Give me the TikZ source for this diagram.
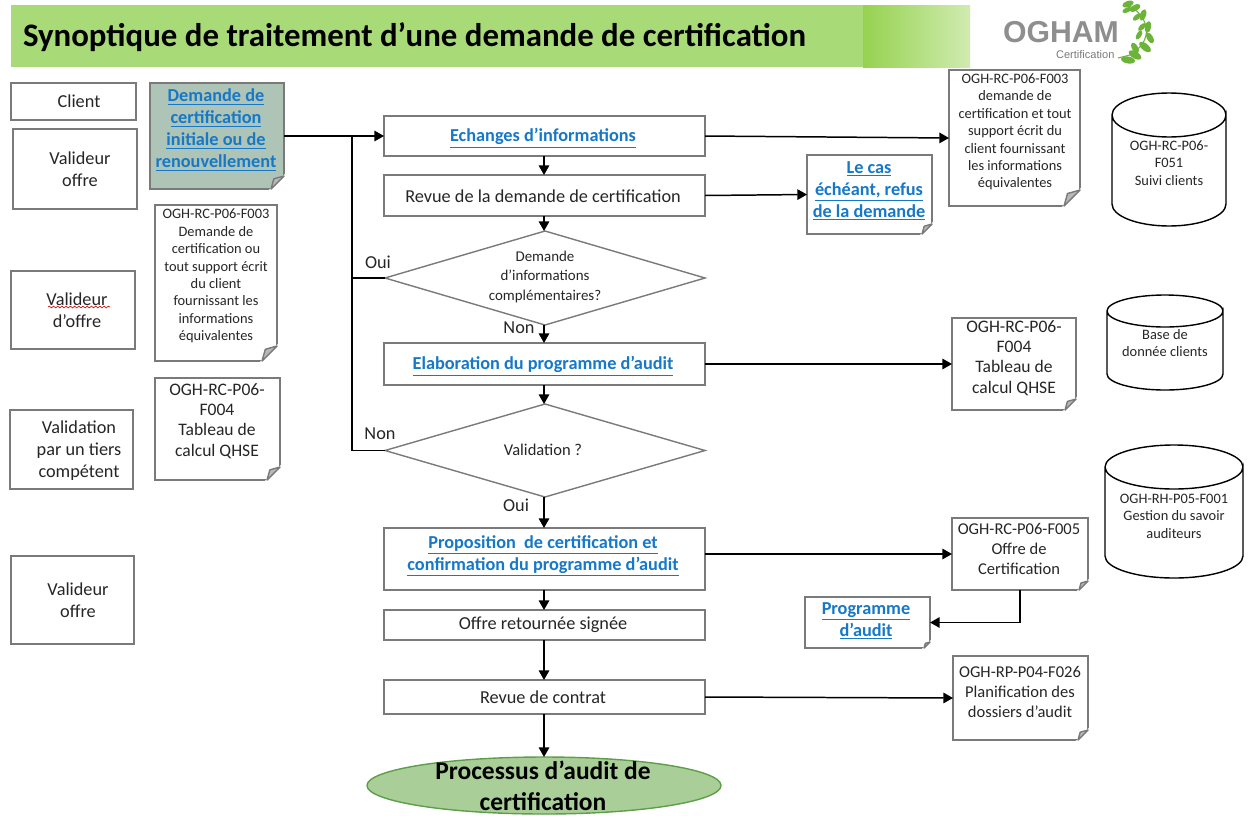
\documentclass[tikz,border=0pt]{standalone}
\usepackage{fontspec}
\setmainfont{Carlito}
\newfontfamily\logofont{Liberation Sans}
\usetikzlibrary{shapes.geometric,arrows.meta,calc,decorations.pathmorphing}
\definecolor{linkblue}{HTML}{1578C8}
\definecolor{edgegray}{HTML}{7A7A7A}
\definecolor{barA}{HTML}{A9DA78}
\definecolor{barB}{HTML}{96D250}
\definecolor{barC}{HTML}{D0EBB0}
\definecolor{notegreen}{HTML}{AEC4B6}
\definecolor{ovalgreen}{HTML}{A9CE98}
\definecolor{ovaledge}{HTML}{5E9E4A}
\definecolor{leafgreen}{HTML}{6CB33A}
\definecolor{foldgray}{HTML}{B8B8B8}
\definecolor{txt}{HTML}{262626}
\newcommand{\lk}[1]{\textcolor{linkblue}{\underline{#1}}}
\tikzset{
  x=0.02cm,y=-0.02cm,
  base/.style={inner sep=0pt,outer sep=0pt},
  outline/.style={draw=edgegray,line width=0.8pt},
  plainbox/.style={base,rectangle,outline,fill=white},
  ghost/.style={base,rectangle},
  tmain/.style={base,align=center,text=txt,font=\fontsize{10.4}{12.5}\selectfont},
  tdiam/.style={base,align=center,text=txt,font=\fontsize{8.5}{11}\selectfont},
  tval/.style={base,align=center,text=txt,font=\fontsize{9.4}{12}\selectfont},
  tbig/.style={base,align=center,text=txt,font=\fontsize{9.4}{11.3}\selectfont},
  ttab/.style={base,align=center,text=txt,font=\fontsize{10}{11.6}\selectfont},
  tsmall/.style={base,align=center,text=txt,font=\fontsize{8.2}{9.9}\selectfont},
  tlink/.style={base,align=center,font=\bfseries\fontsize{10.4}{12.5}\selectfont},
  conn/.style={line width=0.85pt,draw=black,-{Triangle[length=5.5pt,width=6pt]}},
  connplain/.style={line width=0.85pt,draw=black},
  cylline/.style={draw=black,line width=0.8pt,fill=white},
}
% name, x1, y1, x2, y2, box style, text style, text position, text
\newcommand{\shp}[9]{%
  \node[#6,minimum width={(#4-#2)*0.02cm},minimum height={(#5-#3)*0.02cm}] (#1) at ({(#2+#4)/2},{(#3+#5)/2}) {};
  \node[#7] (#1t) at #8 {#9};
}
% node name, fold size
\newcommand{\foldc}[2]{%
  \fill[white,draw=white,line width=1pt] ($(#1.south east)+(0,-#2)$) -- ($(#1.south east)+(-#2,0)$) -- (#1.south east) -- cycle;
  \draw[outline,fill=foldgray,line join=round] ($(#1.south east)+(0,-#2)$) -- ($(#1.south east)+(-#2,0)$) -- ($(#1.south east)+(-0.78*#2,-0.78*#2)$) -- cycle;
}
% node name, x radius, y radius
\newcommand{\cylc}[3]{%
  \draw[cylline] ($(#1.north west)+(0,#3)$) -- ($(#1.south west)+(0,-#3)$)
     .. controls +(0,{0.5523*#3}) and ($(#1.south)+({-0.5523*#2},0)$) .. (#1.south)
     .. controls ($(#1.south)+({0.5523*#2},0)$) and ($(#1.south east)+(0,{-(1-0.5523)*#3})$) .. ($(#1.south east)+(0,-#3)$)
     -- ($(#1.north east)+(0,#3)$)
     .. controls +(0,{0.5523*#3}) and ($(#1.north)+({0.5523*#2},{2*#3})$) .. ($(#1.north)+(0,{2*#3})$)
     .. controls ($(#1.north)+({-0.5523*#2},{2*#3})$) and ($(#1.north west)+(0,{(1+0.5523)*#3})$) .. ($(#1.north west)+(0,#3)$)
     .. controls ($(#1.north west)+(0,{(1-0.5523)*#3})$) and ($(#1.north)+({-0.5523*#2},0)$) .. (#1.north)
     .. controls ($(#1.north)+({0.5523*#2},0)$) and ($(#1.north east)+(0,{(1-0.5523)*#3})$) .. ($(#1.north east)+(0,#3)$);
}
\newcommand{\leaf}[4]{\fill[leafgreen,rotate around={#3:(#1,#2)}] (#1,#2) ellipse [x radius=#4,y radius={#4*0.5}];}
\begin{document}
\begin{tikzpicture}
\useasboundingbox (0,0) rectangle (1250,815);
% title bar
\fill[barA] (11,5) rectangle (863,67);
\shade[left color=barB,right color=barC,shading angle=90] (863,5) rectangle (970,67);
\node[base,anchor=west,text=black] (title) at (23,37) {\bfseries\fontsize{18.7}{21}\selectfont Synoptique de traitement d’une demande de certification};
% logo
\node[base,anchor=west] (logoA) at (1003,32) {\logofont\bfseries\fontsize{17.2}{18}\selectfont\textcolor[HTML]{8E8E8E}{OGHAM}};
\node[base,anchor=west] (logoB) at (1056,55) {\logofont\fontsize{6.3}{7}\selectfont\textcolor[HTML]{7A7A7A}{Certification}};
\draw[leafgreen,line width=0.6pt] (1125,4) .. controls (1146,12) and (1158,38) .. (1130,55) -- (1118,58);
\leaf{1128}{4}{20}{6}\leaf{1135}{8}{30}{6}\leaf{1127}{10}{25}{5}\leaf{1143}{15}{70}{6}
\leaf{1137}{17}{40}{5}\leaf{1148}{27}{80}{6}\leaf{1142}{27}{45}{5}\leaf{1150}{38}{-60}{6}
\leaf{1139}{35}{60}{5}\leaf{1145}{47}{-40}{7}\leaf{1135}{48}{-60}{6}\leaf{1135}{55}{-30}{7}\leaf{1128}{60}{-10}{7}
% left column
\shp{a1}{11}{83}{136}{120}{plainbox}{tmain}{(79,101)}{Client}
\shp{a2}{13}{129}{137}{209}{plainbox}{tmain}{(80,169)}{Valideur\\offre}
\shp{a3}{11}{271}{135}{349}{plainbox}{tmain}{(77,310)}{Valideur\\d’offre}
\draw[red!85!black,line width=0.35pt,decorate,decoration={snake,amplitude=0.5pt,segment length=2.4pt}] (48,307) -- (110,307);
\shp{a4}{10}{410}{133}{489}{plainbox}{tmain}{(79,451)}{Validation\\par un tiers\\compétent}
\shp{a5}{11}{556}{134}{644}{plainbox}{tmain}{(78,600)}{Valideur\\offre}
% notes left
\shp{dem}{150}{83}{284}{189}{plainbox,fill=notegreen}{tlink}{(216,130)}{\lk{Demande de}\\\lk{certification}\\\lk{initiale ou de}\\\lk{renouvellement}}
\foldc{dem}{13}
\shp{n2}{155}{205}{277}{361}{plainbox}{tsmall}{(216,276)}{OGH-RC-P06-F003\\Demande de\\certification ou\\tout support écrit\\du client\\fournissant les\\informations\\équivalentes}
\foldc{n2}{15}
\shp{n3}{155}{378}{280}{480}{plainbox}{ttab}{(217,421)}{OGH-RC-P06-\\F004\\Tableau de\\calcul QHSE}
\foldc{n3}{13}
% main flow
\shp{ech}{384}{116}{705}{156}{plainbox}{tlink}{(543,138)}{\lk{Echanges d’informations}}
\shp{rev}{384}{175}{705}{216}{plainbox}{tmain}{(543,196)}{Revue de la demande de certification}
\shp{d1}{385}{231}{705}{325}{base,diamond,outline,fill=white}{tdiam}{(545,277)}{Demande\\d’informations\\complémentaires?}
\shp{ela}{384}{343}{705}{385}{plainbox}{tlink}{(543,366)}{\lk{Elaboration du programme d’audit}}
\shp{d2}{385}{404}{705}{497}{base,diamond,outline,fill=white}{tval}{(543,450)}{Validation ?}
\shp{pro}{384}{528}{705}{590}{plainbox}{tlink}{(543,556)}{\lk{Proposition\ \ de certification et}\\\lk{confirmation du programme d’audit}}
\shp{off}{384}{610}{705}{640}{plainbox}{tmain}{(543,625)}{Offre retournée signée}
\shp{con}{384}{680}{705}{714}{plainbox}{tmain}{(543,697)}{Revue de contrat}
\shp{proc}{367}{757}{721}{814}{base,ellipse,draw=ovaledge,line width=0.8pt,fill=ovalgreen}{base,align=center,text=black,font=\bfseries\fontsize{14.5}{17.6}\selectfont}{(543,786)}{Processus d’audit de\\certification}
% notes right
\shp{rn}{949}{70}{1080}{206}{plainbox}{tsmall}{(1015,132)}{OGH-RC-P06-F003\\demande de\\certification et tout\\support écrit du\\client fournissant\\les informations\\équivalentes}
\foldc{rn}{16}
\shp{cas}{807}{155}{932}{234}{plainbox}{tlink}{(869,191)}{\lk{Le cas}\\\lk{échéant, refus}\\\lk{de la demande}}
\foldc{cas}{10}
\shp{tab}{952}{318}{1076}{410}{plainbox}{ttab}{(1014,358)}{OGH-RC-P06-\\F004\\Tableau de\\calcul QHSE}
\foldc{tab}{11}
\shp{f5}{952}{518}{1088}{590}{plainbox}{tbig}{(1019,549)}{OGH-RC-P06-F005\\Offre de\\Certification}
\foldc{f5}{9}
\shp{prg}{805}{597}{930}{648}{plainbox}{tlink}{(866,621)}{\lk{Programme}\\\lk{d’audit}}
\foldc{prg}{6}
\shp{f26}{953}{656}{1088}{740}{plainbox}{tbig}{(1020,692)}{OGH-RP-P04-F026\\Planification des\\dossiers d'audit}
\foldc{f26}{10}
% cylinders
\shp{c1}{1112}{93}{1226}{226}{ghost}{base}{(1169,93)}{}
\cylc{c1}{57}{22}
\node[tsmall] (c1x) at (1169,163) {OGH-RC-P06-\\F051\\Suivi clients};
\shp{c2}{1107}{295}{1223}{390}{ghost}{base}{(1165,295)}{}
\cylc{c2}{58}{16}
\node[tsmall] (c2x) at (1165,343) {Base de\\donnée clients};
\shp{c3}{1105}{445}{1243}{578}{ghost}{base}{(1174,445)}{}
\cylc{c3}{69}{22}
\node[tsmall] (c3x) at (1174,516) {OGH-RH-P05-F001\\Gestion du savoir\\auditeurs};
% connectors
\coordinate (jn) at (352,135);
\draw[connplain] (d2.west) -- (d2.west -| jn) -- (jn);
\draw[connplain] (d1.west) -- (d1.west -| jn);
\draw[conn] (ech.west -| dem.east) -- (ech.west);
\draw[conn] (ech.east) -- (rn.west);
\draw[conn] (rev.east) -- (cas.west);
\draw[conn] (ela.east) -- (tab.west);
\draw[conn] (pro.east |- f5.west) -- (f5.west);
\draw[conn] (con.east) -- (f26.west);
\draw[conn] (f5.south) |- (prg.east);
\coordinate (mx) at (544,0);
\draw[conn] (ech.south -| mx) -- (rev.north -| mx);
\draw[conn] (rev.south -| mx) -- (d1.north -| mx);
\draw[conn] (d1.south -| mx) -- (ela.north -| mx);
\draw[conn] (ela.south -| mx) -- (d2.north -| mx);
\draw[conn] (d2.south -| mx) -- (pro.north -| mx);
\draw[conn] (pro.south -| mx) -- (off.north -| mx);
\draw[conn] (off.south -| mx) -- (con.north -| mx);
\draw[conn] (con.south -| mx) -- (proc.north -| mx);
% edge labels
\node[tmain] (l1) at (378,262) {Oui};
\node[tmain] (l2) at (380,434) {Non};
\node[tmain] (l3) at (519,328) {Non};
\node[tmain] (l4) at (516,505) {Oui};
\end{tikzpicture}
\end{document}
